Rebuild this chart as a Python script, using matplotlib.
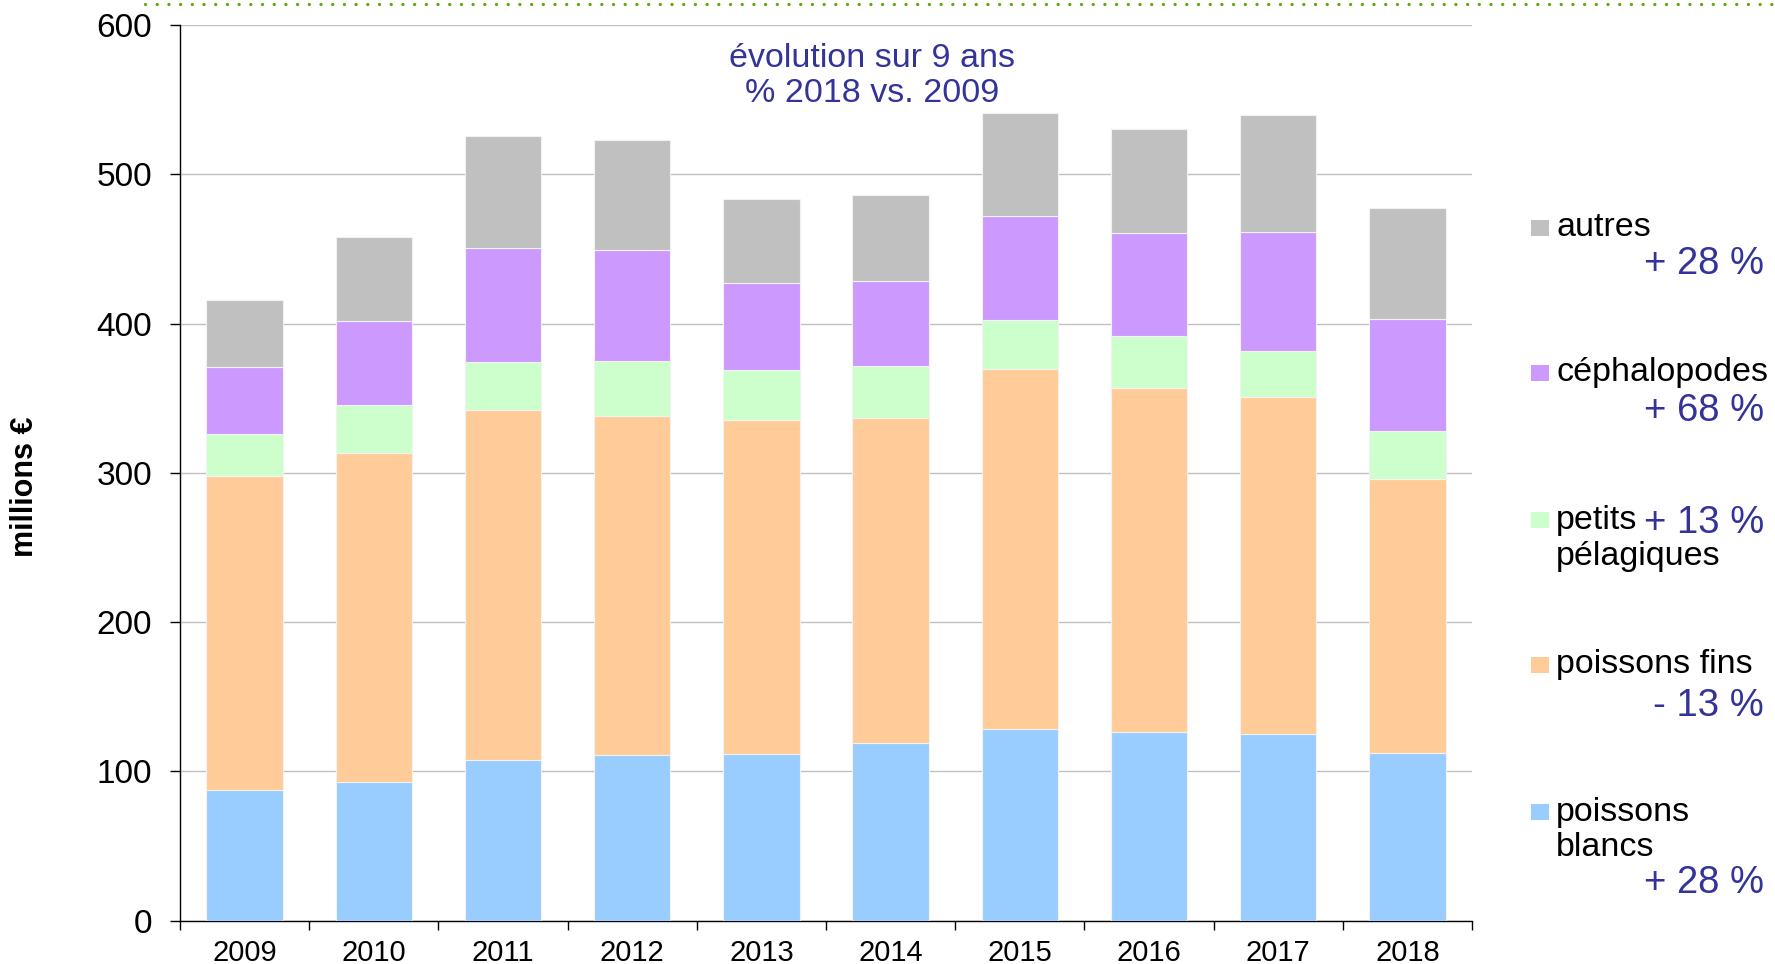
import matplotlib
matplotlib.use("Agg")
import matplotlib.pyplot as plt
import numpy as np
from matplotlib.lines import Line2D
from matplotlib.patches import Rectangle

years = ["2009", "2010", "2011", "2012", "2013", "2014", "2015", "2016", "2017", "2018"]
poissons_blancs = [87.6, 93.0, 107.4, 111.0, 111.7, 119.1, 128.7, 126.6, 124.8, 112.5]
poissons_fins = [210.5, 220.6, 234.7, 226.8, 223.4, 217.4, 241.0, 230.3, 225.8, 183.7]
petits_pelagiques = [28.2, 31.9, 32.3, 37.3, 33.7, 34.8, 32.6, 34.6, 31.1, 32.0]
cephalopodes = [44.8, 55.9, 76.3, 74.1, 58.1, 57.4, 69.7, 69.2, 79.6, 74.7]
autres = [44.7, 56.9, 75.1, 73.5, 56.8, 57.4, 68.8, 69.3, 78.6, 74.8]

series_labels = ["poissons blancs", "poissons fins", "petits pélagiques", "céphalopodes", "autres"]
legend_labels = ["autres", "céphalopodes", "petits\npélagiques", "poissons fins", "poissons\nblancs"]
pct_labels = ["+ 28 %", "+ 68 %", "+ 13 %", "- 13 %", "+ 28 %"]
yticks = [0, 100, 200, 300, 400, 500, 600]
ylabel = "millions €"
note = "évolution sur 9 ans\n% 2018 vs. 2009"

colors = ["#99CCFF", "#FFCC99", "#CCFFCC", "#CC99FF", "#C0C0C0"]
legend_colors = ["#C0C0C0", "#CC99FF", "#CCFFCC", "#FFCC99", "#99CCFF"]
navy = "#333399"
FONT = "Liberation Sans"
plt.rcParams["font.family"] = [FONT, "DejaVu Sans"]

W, H = 1775, 964
fig = plt.figure(figsize=(W / 100, H / 100), dpi=100)

def fx(px):
    return px / W

def fy(py):
    return 1 - py / H

ax = fig.add_axes([fx(180), fy(920.7), fx(1472) - fx(180), fy(25) - fy(920.7)])

x = np.arange(len(years))
bottom = np.zeros(len(years))
for vals, c in zip([poissons_blancs, poissons_fins, petits_pelagiques, cephalopodes, autres], colors):
    ax.bar(x, vals, width=0.59, bottom=bottom, color=c, edgecolor="#F2F2F2", linewidth=0.8, zorder=3)
    bottom += np.array(vals)

ax.set_xlim(-0.5, len(years) - 0.5)
ax.set_ylim(0, 600)
ax.set_yticks(yticks)
ax.set_yticklabels([str(v) for v in yticks], fontsize=24)
ax.yaxis.grid(True, color="#C0C0C0", linewidth=1.0, zorder=0)
ax.set_axisbelow(True)

ax.set_xticks(np.arange(len(years) + 1) - 0.5)
ax.set_xticklabels([])
ax.set_xticks(x, minor=True)
ax.set_xticklabels(years, minor=True, fontsize=21)
ax.tick_params(axis="x", which="major", length=6.5, width=1.0, direction="out", color="black")
ax.tick_params(axis="x", which="minor", length=0, pad=13)
ax.tick_params(axis="y", length=7.2, width=1.0, direction="out", pad=13, color="black")

for s in ["top", "right"]:
    ax.spines[s].set_visible(False)
ax.spines["left"].set_color("black")
ax.spines["left"].set_linewidth(1.0)
ax.spines["bottom"].set_color("black")
ax.spines["bottom"].set_linewidth(1.0)

fig.text(fx(25), fy(487), ylabel, rotation=90, ha="center", va="center",
         fontsize=22, fontweight="bold")

fig.text(fx(872), fy(76), note, ha="center", va="center", fontsize=24.5,
         color=navy, linespacing=1.2)

# green dotted top line
fig.add_artist(Line2D([fx(145), fx(1775)], [fy(3.5), fy(3.5)], transform=fig.transFigure,
                      color="#5FAA10", linewidth=2.4, linestyle=(0, (0.01, 3.5)),
                      dash_capstyle="round"))

# legend
label_centers = [228, 373, 520, 665, 812]
pct_centers = [264, 411, 523, 706, 883]
line_step = 36
for lab, col, yc, pct, yp in zip(legend_labels, legend_colors, label_centers, pct_labels, pct_centers):
    fig.add_artist(Rectangle((fx(1531), fy(yc + 8)), fx(18), 16 / H,
                             transform=fig.transFigure, facecolor=col, edgecolor="none"))
    for i, line in enumerate(lab.split("\n")):
        fig.text(fx(1556), fy(yc + i * line_step), line, ha="left", va="center",
                 fontsize=24.5, color="black")
    fig.text(fx(1764), fy(yp), pct, ha="right", va="center", fontsize=27.5, color=navy)

fig.savefig("out.png", dpi=100)
